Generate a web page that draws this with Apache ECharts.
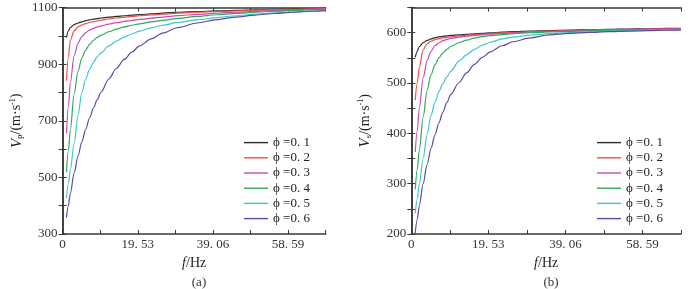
<!DOCTYPE html>
<html><head><meta charset="utf-8">
<script src="https://cdn.jsdelivr.net/npm/echarts@6/dist/echarts.min.js"></script>
<style>html,body{margin:0;padding:0;background:#fff}#c{width:700px;height:289px}</style>
</head><body><div id="c"></div>
<script>
// ---- data ----
const freq = [1, 1.5, 2, 3, 4, 5, 6, 7, 8, 9, 10, 12, 14, 16, 18, 20, 23, 26, 30, 35, 40, 45, 50, 55, 60, 65, 68.36];
const phiNames = ['ϕ =0. 1', 'ϕ =0. 2', 'ϕ =0. 3', 'ϕ =0. 4', 'ϕ =0. 5', 'ϕ =0. 6'];
// Vp (m/s), panel (a)
const vp01 = [994, 1018, 1030, 1040, 1046, 1050, 1054, 1057, 1059.5, 1061.5, 1063.5, 1066.5, 1069, 1071.5, 1073.5, 1075.5, 1078, 1080.5, 1084, 1086.5, 1088.5, 1090.5, 1092.5, 1094, 1095.5, 1097, 1098];
const vp02 = [842, 925, 985, 1018, 1032, 1039, 1044, 1048, 1051, 1053.5, 1056, 1060, 1063.5, 1066.5, 1069, 1071.5, 1074.5, 1077, 1081, 1084, 1086.5, 1089, 1091, 1093, 1094.5, 1096, 1097];
const vp03 = [656, 750, 835, 930, 975, 998, 1012, 1021, 1027, 1032, 1036, 1042, 1047, 1051.5, 1055, 1058.5, 1063, 1066.5, 1072, 1076.5, 1080.5, 1084, 1087, 1089.5, 1092, 1094.5, 1096];
const vp04 = [518, 595, 668, 795, 875, 922, 950, 970, 984, 995, 1003, 1015, 1024, 1032, 1038, 1043, 1050, 1055, 1062, 1069, 1075, 1080, 1084, 1087.5, 1090.5, 1093, 1094.5];
const vp05 = [427, 478, 527, 620, 720, 800, 848, 882, 907, 926, 941, 965, 982, 996, 1007, 1017, 1029, 1038, 1048, 1057, 1065, 1071.5, 1077, 1081.5, 1085.5, 1089, 1091];
const vp06 = [358, 400, 443, 515, 575, 626, 670, 710, 745, 775, 802, 848, 886, 917, 943, 965, 990, 1010, 1030, 1046, 1058, 1067, 1074, 1079.5, 1084, 1087.5, 1089.5];
// Vs (m/s), panel (b)
const vs01 = [551, 563, 572, 580, 584.5, 587.5, 590, 591.5, 592.5, 593.5, 594.5, 595.5, 596.5, 597.5, 598.5, 599.5, 601, 602, 603, 604, 605, 605.8, 606.5, 607.2, 607.8, 608.4, 608.8];
const vs02 = [466, 500, 530, 566, 578, 583, 586, 588, 589.5, 590.7, 591.8, 593.5, 595, 596.2, 597.3, 598.3, 599.6, 600.7, 601.9, 603.1, 604.1, 605, 605.8, 606.5, 607.1, 607.7, 608.1];
const vs03 = [363, 405, 448, 510, 545, 563, 574, 580, 584, 586.5, 588.5, 591, 593, 594.5, 595.8, 597, 598.5, 599.7, 601, 602.3, 603.4, 604.3, 605.1, 605.8, 606.4, 607, 607.4];
const vs04 = [289, 328, 365, 432, 485, 516, 536, 550, 560, 567, 572.5, 580, 585, 589, 592, 594, 596.3, 598, 599.8, 601.4, 602.6, 603.6, 604.4, 605.1, 605.7, 606.3, 606.7];
const vs05 = [241, 270, 298, 350, 398, 435, 462, 483, 499, 512, 523, 543, 556, 567, 575, 581, 587.5, 591.5, 595, 598, 600, 601.8, 603.1, 604.1, 605, 605.7, 606.1];
const vs06 = [202, 229, 255, 300, 338, 370, 397, 421, 442, 461, 477, 500, 520, 537, 551, 562, 574, 582.5, 589.5, 595.5, 598.5, 600.5, 602, 603.2, 604.1, 604.8, 605.2];
const xTickLabels = ['0', '19. 53', '39. 06', '58. 59'];
const vpTickLabels = [300, 500, 700, 900, 1100];
const vsTickLabels = [200, 300, 400, 500, 600];
const panelLabels = ['(a)', '(b)'];

// ---- styling ----
const colors = ['#2a2a2a', '#f0504c', '#c84cb8', '#2fa85a', '#3ec6cc', '#5a4ca0'];
const SERIF = '"Liberation Serif", "DejaVu Serif", serif';
const AX = '#3a3a3a';
const XSTEP = 9.765, XMAX = 68.355;

function pairs(ys) { return freq.map((f, i) => [f, ys[i]]); }
function xLabel(v) {
  const k = Math.round(v / XSTEP);
  return (k % 2 === 0 && k / 2 < xTickLabels.length) ? xTickLabels[k / 2] : '';
}
const lineCommon = { show: true, lineStyle: { color: AX, width: 1.6 } };
const tickCommon = { show: true, inside: true, length: 4, lineStyle: { color: AX, width: 1 } };

function xAxes(gi) {
  return [
    { gridIndex: gi, type: 'value', min: 0, max: XMAX, interval: XSTEP, position: 'bottom',
      axisLine: lineCommon, axisTick: tickCommon, splitLine: { show: false },
      axisLabel: { formatter: xLabel, fontFamily: SERIF, fontSize: 13, color: '#333', margin: 4 },
      name: '{i|f}{n|/Hz}', nameLocation: 'middle', nameGap: 22,
      nameTextStyle: { rich: { i: { fontFamily: SERIF, fontStyle: 'italic', fontSize: 14, color: '#222' },
                              n: { fontFamily: SERIF, fontSize: 14, color: '#222' } } } },
    { gridIndex: gi, type: 'value', min: 0, max: XMAX, interval: XSTEP, position: 'top',
      axisLine: lineCommon, axisTick: tickCommon, splitLine: { show: false }, axisLabel: { show: false } }
  ];
}
function yAxes(gi, min, max, step, ticks, sub) {
  return [
    { gridIndex: gi, type: 'value', min: min, max: max, interval: step, position: 'left',
      axisLine: lineCommon, axisTick: tickCommon, splitLine: { show: false },
      axisLabel: { formatter: v => ticks.includes(v) ? String(v) : '', fontFamily: SERIF, fontSize: 13, color: '#333', margin: 5 },
      name: '{i|V}{s|' + sub + '}{n|/(m·s}{u|-1}{n|)}', nameLocation: 'middle', nameGap: 38, nameRotate: 90,
      nameTextStyle: { rich: {
        i: { fontFamily: SERIF, fontStyle: 'italic', fontSize: 15, color: '#222', lineHeight: 16 },
        s: { fontFamily: SERIF, fontSize: 9, color: '#222', verticalAlign: 'bottom', lineHeight: 10 },
        n: { fontFamily: SERIF, fontSize: 14, color: '#222', lineHeight: 16 },
        u: { fontFamily: SERIF, fontSize: 8, color: '#222', verticalAlign: 'top', lineHeight: 9 } } } },
    { gridIndex: gi, type: 'value', min: min, max: max, interval: step, position: 'right',
      axisLine: lineCommon, axisTick: tickCommon, splitLine: { show: false }, axisLabel: { show: false } }
  ];
}

const vpSets = [vp01, vp02, vp03, vp04, vp05, vp06];
const vsSets = [vs01, vs02, vs03, vs04, vs05, vs06];
const series = [];
vpSets.forEach((ys, i) => series.push({ name: phiNames[i], type: 'line', xAxisIndex: 0, yAxisIndex: 0,
  data: pairs(ys), symbol: 'none', smooth: 0.3, smoothMonotone: 'x', color: colors[i], lineStyle: { width: 1.2, color: colors[i] } }));
vsSets.forEach((ys, i) => series.push({ name: phiNames[i] + ' ', type: 'line', xAxisIndex: 2, yAxisIndex: 2,
  data: pairs(ys), symbol: 'none', smooth: 0.3, smoothMonotone: 'x', color: colors[i], lineStyle: { width: 1.2, color: colors[i] } }));

const legendCommon = { orient: 'vertical', icon: 'rect', itemWidth: 24, itemHeight: 1.4, itemGap: 0,
  textStyle: { fontFamily: SERIF, fontSize: 13, color: '#222', lineHeight: 15.2, padding: [0, 0, 0, 0] } };

const chart = echarts.init(document.getElementById('c'), null, { renderer: 'canvas' });
chart.setOption({
  animation: false,
  backgroundColor: '#fff',
  grid: [
    { left: 62.6, right: 374.3, top: 7.7, bottom: 55 },
    { left: 411.3, right: 19, top: 7.5, bottom: 55 }
  ],
  xAxis: [...xAxes(0), ...xAxes(1)],
  yAxis: [...yAxes(0, 300, 1100, 100, vpTickLabels, 'p'), ...yAxes(1, 200, 650, 50, vsTickLabels, 's')],
  legend: [
    Object.assign({ left: 239, top: 130, data: phiNames }, legendCommon),
    Object.assign({ left: 592, top: 130, data: phiNames.map(n => n + ' '), formatter: n => n.trim() }, legendCommon)
  ],
  title: [
    { text: panelLabels[0], left: 194, top: 271, textAlign: 'center', textStyle: { fontFamily: SERIF, fontSize: 13, fontWeight: 'normal', color: '#333' } },
    { text: panelLabels[1], left: 546, top: 271, textAlign: 'center', textStyle: { fontFamily: SERIF, fontSize: 13, fontWeight: 'normal', color: '#333' } }
  ],
  series: series
});
</script>
</body></html>
